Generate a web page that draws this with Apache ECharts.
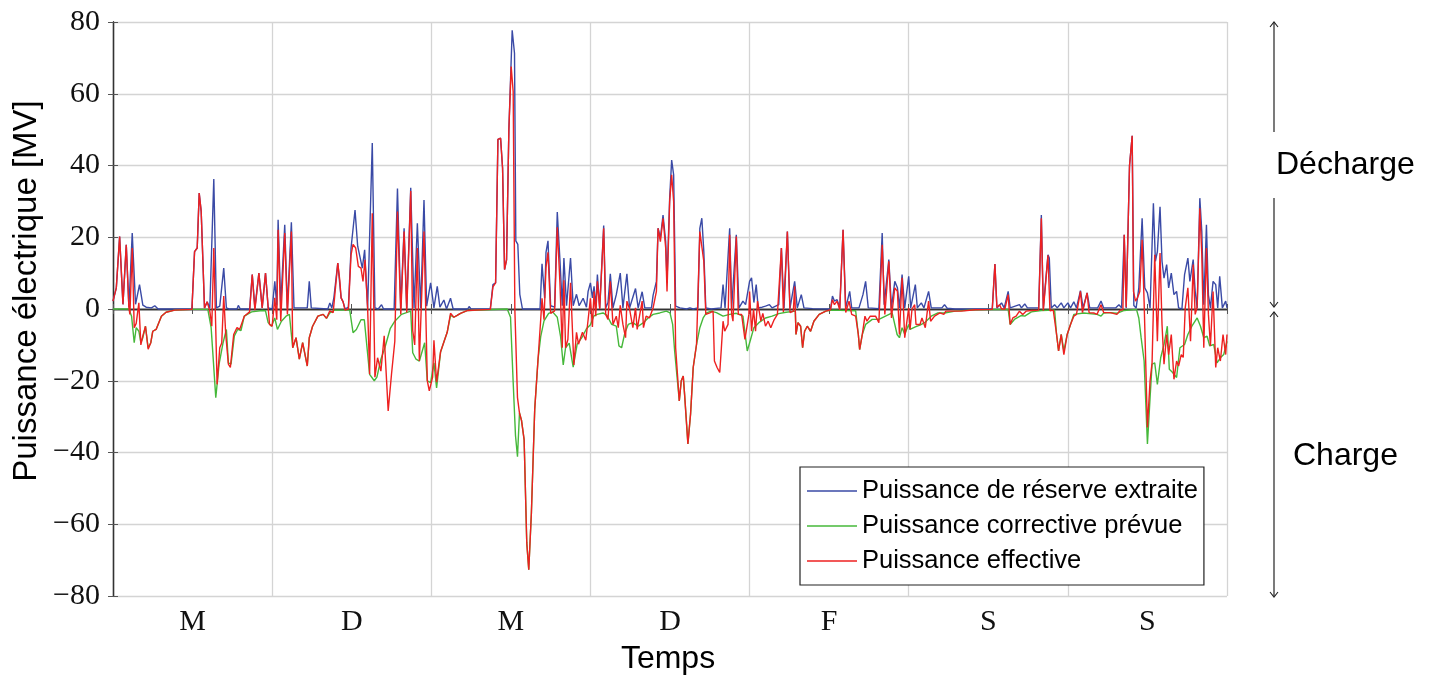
<!DOCTYPE html>
<html>
<head>
<meta charset="utf-8">
<script src="https://cdn.jsdelivr.net/npm/echarts@6/dist/echarts.min.js"></script>
<style>
  html, body { margin: 0; padding: 0; background: #fff; }
  #chart { width: 1435px; height: 680px; }
</style>
</head>
<body>
<div id="chart"></div>
<script>
// jours de la semaine (axe des x, une étiquette par jour)
var dayLabels = ['M', 'D', 'M', 'D', 'F', 'S', 'S'];
var yTicks = [-80, -60, -40, -20, 0, 20, 40, 60, 80];
var seriesNames = ['Puissance de réserve extraite', 'Puissance corrective prévue', 'Puissance effective'];

// [heure, MW]
var reserveExtraite = [[0,2.2],[0.5,5.9],[1,20.2],[1.5,1.3],[2,17.9],[2.4,0.5],[2.9,21.2],[3.4,1.3],[4,6.8],[4.5,1.1],[5,0.5],[5.8,0.3],[6.3,0.9],[6.8,0],[11.4,0],[11.6,0.5],[11.9,0],[12.3,16],[12.7,17],[13,32.3],[13.3,27.2],[13.8,0.3],[14.2,2],[14.6,0.3],[15.2,36.2],[15.6,0.3],[16.1,0.8],[16.7,11.4],[17.1,0.3],[17.5,0],[18.7,0],[18.9,1],[19.2,0],[20.6,0],[21,9.6],[21.4,0.3],[22,10],[22.5,0.3],[23,10],[23.4,0.3],[24,0],
[24.4,7.7],[24.7,1],[24.9,24.9],[25.3,1.2],[25.9,23.5],[26.3,0.3],[26.9,24.2],[27.3,0.3],[29.3,0.3],[29.6,7.7],[29.9,0.3],[32.4,0],[32.7,1.7],[33,0.3],[33.3,3],[33.9,12.8],[34.4,3.1],[34.7,2],[35,0],[35.5,0.5],[35.9,17],[36.5,27.6],[36.9,17.5],[37.2,17],[37.6,11.4],[37.95,16.5],[38.4,0.3],[38.7,0.5],[39.1,46.3],[39.5,0.3],[40,0],[40.5,1.2],[40.8,0],[42.4,0],[42.9,33.6],[43.4,0.3],[43.9,22.5],[44.3,0.3],[44.9,33.8],[45.4,0.3],[45.9,23.9],[46.4,0.3],[46.9,30.4],[47.3,0.8],[47.9,7.3],[48.4,0.3],[48.9,6.3],[49.3,0.5],[49.9,2.5],[50.3,0],[50.9,3],[51.3,0],[53.5,0],[53.7,0.7],[54,0],
[56.9,0],[57.3,6.8],[57.7,7.3],[58.05,47.3],[58.45,47.6],[58.75,39.3],[59.05,11],[59.35,13.7],[59.7,50],[60.2,77.7],[60.55,71.3],[60.75,19],[61.05,18],[61.35,4.1],[61.75,0],[64.4,0],[64.7,12.6],[65.1,3],[65.3,15.8],[65.6,19],[66,0.9],[66.6,0.5],[67,27],[67.4,13.7],[67.75,0.9],[68,14.2],[68.4,0.9],[69,14.2],[69.4,0.9],[69.9,4.1],[70.3,0.9],[70.9,3],[71.4,0.5],[71.65,4.9],[72,7.3],[72.3,3.1],[72.55,6.3],[72.8,0.3],[73.05,9.6],[73.4,0.3],[74,23.3],[74.3,0.3],[74.65,1.8],[75,9.8],[75.4,0.3],[75.9,4],[76.1,4],[76.5,10],[76.9,0.3],[77.5,9.8],[77.9,0.3],[78.8,5.7],[79.2,0.3],[79.8,4.8],[80.2,0.3],[81.2,0.3],[81.45,3.8],[81.95,7.7],[82.2,22.5],[82.55,19.8],[82.95,26.2],[83.35,18.8],[83.55,7.7],[83.95,30.9],[84.25,41.5],[84.55,37.4],[84.85,0.8],[85.5,0.3],[86.5,0],[87,0.3],[87.5,0],[88.2,0.3],[88.5,22.5],[88.8,25.3],[89.1,16],[89.4,0.3],[90.2,0],[91.7,0.3],[92,6.8],[92.3,0.3],[93,22.5],[93.3,0.3],[94,20.7],[94.4,0.3],[95,2.2],[95.4,1.2],
[96,7.7],[96.3,8.7],[96.65,1.8],[97,6.8],[97.3,0.3],[97.9,0.5],[98.4,0.8],[99,1.2],[99.4,0.3],[100.4,1.2],[100.8,17],[101.2,0.3],[101.7,21.6],[102.1,0.3],[102.8,7.7],[103.2,0.3],[103.8,4],[104.2,0.3],[105.5,0.1],[108.2,0],[108.5,3.6],[108.8,2.2],[109.2,2.6],[109.6,0.3],[110.1,22.1],[110.5,0.3],[111.1,4.9],[111.4,0.3],[112.5,0.3],[113.1,4],[113.5,7.7],[113.9,0.3],[115.5,0.1],[116,21.2],[116.3,1.2],[117,13.8],[117.4,0.3],[117.9,7.7],[118.3,5.9],[118.6,0.3],[119,9.6],[119.4,0.3],
[120,9.1],[120.3,0.3],[121,6.8],[121.3,0.3],[121.9,1.7],[122.3,0.3],[123,4.9],[123.4,0.3],[125,0.3],[125.4,1.2],[125.8,0.2],[127,0],[132.6,0],[133,12.5],[133.3,0.3],[134,1.7],[134.4,0.3],[135,4.9],[135.3,0.3],[136.7,1.2],[137,0.3],[137.5,1.4],[137.9,0.3],[139.6,0.3],[140,26.2],[140.3,0.3],[141,15.1],[141.2,14.2],[141.5,0.3],[142,1.2],[142.4,0.3],[143,1.7],[143.4,0.3],
[144,1.7],[144.4,0.3],[144.9,2],[145.3,0.3],[145.9,5.1],[146.3,0.3],[146.9,4.5],[147.3,0.3],[148.5,0.3],[149,2.2],[149.4,0.3],[151.2,0.3],[151.7,1.2],[152.1,0.3],[152.5,20.7],[152.8,0.3],[153.3,40],[153.7,48.3],[153.95,1],[154.3,0.3],[154.7,5.9],[155.2,25.3],[155.6,5.9],[156,4.5],[156.4,0.3],[156.9,29.5],[157.2,13.3],[157.5,16],[157.9,28.5],[158.2,13.3],[158.5,8.6],[158.9,12.4],[159.2,5.9],[159.6,10],[160,4],[160.4,4.9],[160.7,0.3],[161.2,0],[161.6,9.6],[162.1,14.2],[162.4,7.7],[162.9,13.8],[163.2,5],[163.5,0.3],[163.9,30.9],[164.2,21.6],[164.5,1.2],[164.9,23.5],[165.2,3.9],[165.5,0.3],[165.9,7.7],[166.3,6.8],[166.6,0.3],[166.9,9.1],[167.3,0.3],[167.8,2.2],[168,0.3]];

var correctivePrevue = [[0,0],[2.4,0],[2.8,-2],[3.2,-9.4],[3.5,-5.2],[3.9,-6.2],[4.2,-9.4],[4.5,-8],[4.9,-4.8],[5.3,-10.8],[5.7,-9.4],[6,-6.2],[6.5,-5.7],[7.3,-2],[8,-0.9],[9.3,-0.3],[11.8,-0.1],[14.3,-0.1],[14.8,-5.2],[15.5,-24.7],[16,-15.4],[16.6,-9.4],[17.1,-5.7],[17.4,-15],[17.8,-15.4],[18.3,-7.5],[18.8,-5.7],[19.3,-6],[19.8,-2],[20.9,-0.8],[22.5,-0.4],[23,-0.5],[23.4,-3.8],[23.9,-4.8],
[24.4,-2.5],[24.8,-5.7],[25.4,-3.4],[26.1,-2],[26.6,-1.5],[27.1,-10.8],[27.6,-8],[28.1,-14],[28.6,-9.4],[29.3,-15.9],[29.6,-8],[30.1,-4.8],[30.9,-2],[31.7,-1.5],[32.2,-2.6],[32.7,-1.1],[33.4,-0.3],[35.7,-0.3],[36.2,-6.6],[36.7,-5.7],[37.4,-3],[37.9,-3],[38.7,-18.2],[39.4,-20],[39.8,-19],[40.4,-14],[41,-10.8],[41.8,-5.5],[42.5,-3.4],[43.5,-1.5],[44.9,-0.6],[45.2,-12.2],[45.7,-14],[46.2,-14.5],[47,-9.4],[47.4,-20],[47.9,-20.5],
[48.4,-15],[48.8,-22],[49.4,-12],[49.9,-9.2],[50.4,-6.5],[50.9,-1.8],[51.4,-2.3],[51.9,-1.8],[52.4,-1.2],[53.5,-0.4],[59.45,0],[59.95,-2.3],[60.35,-20.4],[60.7,-35.3],[61,-41.2],[61.3,-29],[61.6,-31],[62,-36.4],[62.4,-65.2],[62.7,-72.7],[63.1,-56.7],[63.6,-27.9],[64.1,-14],[64.5,-7.7],[65,-3.3],[65.7,-1.2],[66.3,-0.8],[67,-2.3],[67.5,-7.7],[67.9,-15.6],[68.25,-10.8],[68.8,-9.5],[69.4,-16.2],[70,-9.8],[70.7,-8],[71.4,-5.5],
[72,-4.4],[72.5,-2],[73,-1.5],[73.9,-1.1],[74.5,-1.8],[75.2,-4.3],[75.9,-4.8],[76.3,-10.3],[76.7,-10.8],[77.2,-6.6],[77.7,-4.3],[78.4,-3.8],[79.2,-4.8],[80,-3.8],[80.7,-2.5],[81.45,-1.5],[82.45,-1.1],[83.45,-0.6],[84,-1.1],[84.4,-4.3],[84.7,-11.7],[85.4,-25.6],[85.7,-20],[86,-18.7],[86.2,-23.8],[86.7,-37.6],[87.1,-29.3],[87.5,-16.3],[88,-9.9],[88.5,-5.2],[89,-2.5],[89.5,-1.1],[90.2,-0.6],[91,-1],[92,-2],[93,-1.5],[94,-1.2],[95,-2],[95.65,-11.7],
[96.15,-8.5],[96.65,-5.2],[97.4,-3.8],[98.4,-2.5],[99.4,-2],[100.4,-1.3],[101.5,-0.9],[102.9,-0.6],[103,-7.1],[103.3,-3.8],[103.7,-4.8],[104,-10.8],[104.3,-6.2],[104.7,-4.8],[105.2,-6.2],[105.7,-3.4],[106.5,-1.5],[107.5,-0.6],[108.5,-0.3],[112,-0.5],[112.4,-7.1],[112.6,-11.3],[113,-7.1],[113.5,-4.3],[114.5,-2.9],[115.5,-2.9],[116.5,-2],[117.5,-1.1],[118.25,-7.1],[118.6,-8],[119,-5.2],[119.4,-7],
[120,-4.3],[120.2,-5.7],[121,-5],[121.7,-4.5],[122.4,-3.8],[123.4,-2],[124.4,-1.1],[125.4,-1.1],[127,-0.6],[130,-0.2],[135,-0.1],[135.3,-4.3],[136,-2.8],[137,-1.8],[137.5,-2],[138.5,-0.8],[140,-0.4],[142,-0.3],[142.3,-7.1],[142.6,-11.7],[143,-7.1],[143.4,-11.7],[143.9,-7.1],
[144.4,-4.3],[144.9,-1.5],[146.4,-1.1],[148.4,-1.5],[149,-2],[149.4,-1.1],[150.4,-1],[151.4,-1.2],[152.5,-0.4],[154.35,-0.1],[154.7,-2.5],[155.05,-8],[155.5,-14.5],[156,-37.6],[156.4,-24.7],[156.7,-15.4],[157.1,-15],[157.5,-21],[158,-13.6],[158.5,-9.9],[159,-4.8],[159.3,-16.8],[159.8,-17.7],[160.4,-19.1],[160.9,-10.8],[161.6,-9.9],[162.1,-7.1],[162.7,-4.8],[163.5,-2.5],[164,-4.8],[164.5,-8],[165,-7.6],[165.4,-10.3],[166,-9.9],[166.5,-15],[167,-13.6],[167.5,-12.7],[168,-9]];

var effective = [[0,2.2],[0.5,5.9],[1,20.2],[1.5,1.3],[2,17.9],[2.4,0.3],[2.55,-1.5],[2.9,17],[3.2,-5.2],[3.5,-4],[3.9,1.7],[4.2,-10],[4.5,-7.5],[4.9,-4.8],[5.3,-11.2],[5.7,-9.4],[6,-6.2],[6.5,-5.7],[7.3,-2],[8,-0.9],[9.3,-0.3],[11.9,-0.1],[12.3,16],[12.7,17],[13,32.3],[13.3,27.2],[13.8,0.3],[14.2,2],[14.6,-0.6],[14.9,-4.8],[15.2,17],[15.7,-21],[16.1,-10.8],[16.4,-9.5],[16.7,3.6],[17,-7],[17.4,-15.4],[17.7,-16.3],[18.2,-7.1],[18.7,-5.2],[19.1,-5.7],[19.8,-2],[20.6,-0.8],[21,9.6],[21.4,-0.3],[22,10],[22.5,0.3],[23,10],[23.6,-4.3],[24,-4.8],
[24.4,3.1],[24.7,-3],[24.9,22.1],[25.3,-3.4],[25.9,21.2],[26.3,-1.5],[26.6,-1.5],[26.9,21.6],[27.1,-10.8],[27.6,-8],[28.1,-14],[28.6,-9.4],[29.3,-15.9],[29.6,-8],[30.1,-4.8],[30.9,-2],[31.7,-1.5],[32.2,-2.6],[32.7,-0.5],[33.2,-1],[33.9,12.8],[34.2,8],[34.4,3.1],[34.7,2],[35,-0.3],[35.5,0],[35.9,15.1],[36.2,18],[36.6,17],[37,11.9],[37.4,11.4],[37.7,7.7],[38,13.7],[38.4,0.3],[38.7,-18.2],[39.1,26.7],[39.5,-19],[39.9,-13.6],[40.4,-17.3],[40.9,-7.5],[41.5,-28.4],[42,-18.2],[42.5,-9],[42.9,27.2],[43.4,-1.5],[43.9,21.6],[44.3,-1],[44.9,32.9],[45.2,-6],[45.5,-10],[45.9,17],[46.2,-14.5],[46.9,21.6],[47.4,-20],[47.7,-22.8],
[48.2,-19],[48.4,-8.7],[48.8,-20.4],[49.4,-11.9],[49.9,-9.2],[50.4,-6.5],[50.9,-1.2],[51.4,-2.3],[51.9,-1.8],[52.4,-1.2],[53.5,-0.4],[56.9,-0.1],[57.3,6.2],[57.7,7.3],[58.05,47.3],[58.45,47.6],[58.75,39.3],[59.05,11],[59.35,13.7],[59.7,50],[60.05,67.6],[60.35,60.6],[60.6,0],[61,-24.7],[61.3,-29],[61.6,-31],[62,-36.4],[62.4,-65.2],[62.7,-72.7],[63.1,-56.7],[63.6,-27.9],[64.1,-14],[64.5,-3],[64.7,3],[65,-3],[65.3,11.6],[65.6,15.8],[66,-1.2],[66.6,-0.5],[67,22.8],[67.4,7.3],[67.75,-10.8],[68,8],[68.25,-10.8],[68.6,-8.5],[69,7.3],[69.5,-15.6],[69.9,-6.5],[70.2,-9.8],[70.8,-6.5],[71.3,-8.7],[71.65,-3],
[72,3],[72.3,-5],[72.55,4.9],[72.8,-2],[73.05,7.7],[73.4,0],[74,22.5],[74.3,-1.5],[74.65,-2.9],[75,7.7],[75.4,-4.3],[75.9,-2],[76.2,-5.2],[76.5,1],[76.9,-4.3],[77.3,-8],[77.5,2.2],[77.9,0],[78.4,-5.2],[78.8,0.3],[79.05,-5.7],[79.4,-2],[79.8,2.2],[80,-5.2],[80.4,-2],[80.9,-2.5],[81.45,0.3],[81.95,4.9],[82.2,22.5],[82.55,18.8],[82.95,25.3],[83.35,17],[83.55,4.9],[83.95,30],[84.25,37.4],[84.55,30],[84.85,-10.8],[85.4,-25.6],[85.7,-20],[86,-18.7],[86.2,-23.8],[86.7,-37.6],[87.1,-29.3],[87.5,-16.3],[88,-9.9],[88.5,21.6],[88.8,21.6],[89.1,13.3],[89.4,-1.5],[90,-1.1],[90.5,-0.6],[90.7,-14.5],[91.1,-16.3],[91.5,-17.7],[91.75,-10.8],[92,-3.4],[92.25,-6.2],[92.75,-4.3],[93,20.7],[93.3,-1.5],[93.5,-3.4],[94,20.2],[94.3,-1.5],[94.8,-1.5],[95.3,-8.5],[95.6,-8.9],[95.9,-1.5],
[96,4.9],[96.3,-6.2],[96.6,0],[96.9,-6.2],[97.2,2.2],[97.7,-3.4],[98,-1.2],[98.4,-4.8],[98.8,-3.4],[99.2,-5.2],[99.7,-3],[100.2,-1.5],[100.8,17],[101.1,-0.8],[101.7,21.6],[102.1,-1],[102.6,-0.6],[102.8,6.3],[103,-7.1],[103.3,-3.8],[103.7,-4.8],[104,-10.8],[104.3,-6.2],[104.7,-4.8],[105.2,-6.2],[105.7,-3.4],[106.5,-1.5],[107.5,-0.6],[108.2,-0.2],[108.5,2.6],[108.8,1.2],[109.2,2.2],[109.6,-0.2],[110.1,22.1],[110.5,-1],[111,2.2],[111.4,-1.5],[112,-2],[112.4,-7.1],[112.6,-11.3],[113,-7.1],[113.4,-2],[113.7,-3.4],[114.2,-2],[115,-2],[115.5,-3.8],[116,17.9],[116.4,-1.5],[117,13.3],[117.4,-2.5],[117.9,5.9],[118.3,4.9],[118.6,-7.1],[119,8.7],[119.4,-8],
[120,0.3],[120.2,-5.7],[120.5,0],[120.9,1.2],[121.1,-4.3],[121.7,-4.3],[122,-2.5],[122.5,-5.2],[123,2.2],[123.3,-3.4],[123.9,-2],[124.7,-1.1],[125.3,-1.5],[125.6,-0.6],[127.9,-0.6],[130,-0.2],[132.6,-0.1],[133,12.5],[133.3,0.5],[133.7,1.2],[134,0],[134.5,0],[135,4],[135.3,-4.3],[135.7,-2.5],[136.2,-2],[136.7,-0.6],[137.2,-1.5],[137.7,-0.6],[138.5,-0.4],[139.6,-0.3],[140,25.3],[140.3,-0.5],[140.6,-0.3],[141,15],[141.3,-0.5],[141.8,-0.3],[142.3,-7.1],[142.6,-11.7],[143,-7.1],[143.4,-12.7],[143.9,-7.1],
[144.4,-4.3],[144.9,-2],[145.3,-1.5],[145.9,4.9],[146.2,-1],[146.5,-1.3],[146.9,4.5],[147.2,-1],[147.9,-1.1],[148.4,-1.5],[149,1.2],[149.4,-1],[150.4,-1],[151.4,-1.5],[151.9,-0.3],[152.3,-0.2],[152.5,20.7],[152.8,0.5],[153.3,40],[153.7,48.3],[153.9,4.9],[154.2,2.2],[154.5,3.1],[154.85,4.9],[155.2,19.3],[155.5,2],[156,-33],[156.4,-20],[156.7,-15],[157.1,15.1],[157.5,-9],[157.9,15.6],[158.2,-4.3],[158.5,-15.4],[158.9,-7.1],[159.2,-12.7],[159.6,-7.1],[160,-19.6],[160.4,-14.5],[160.7,-15.9],[161.1,-12.7],[161.4,-13.5],[161.7,0.3],[162.1,5.9],[162.5,-9],[162.9,12.4],[163.2,-1.5],[163.5,0.5],[163.9,28.1],[164.2,15.1],[164.5,-10.8],[164.9,17],[165.2,-1.5],[165.5,-10.3],[165.9,4.9],[166.3,-16.3],[166.6,-10.8],[167,-14.5],[167.4,-7.1],[167.8,-12.7],[168,-7.1]];

var colors = ['#3a4aa6', '#46b83a', '#ee2020'];
var serif = '"Liberation Serif", "DejaVu Serif", serif';
var sans = '"Liberation Sans", Arial, sans-serif';
var frame = { show: true, lineStyle: { color: '#333', width: 1.3 } };
var ticksIn = { show: true, inside: true, length: 5, lineStyle: { color: '#555', width: 1 } };

function makeSerie(name, data, color) {
	return {
		name: name,
		type: 'line',
		data: data,
		symbol: 'none',
		showSymbol: false,
		xAxisIndex: 0,
		yAxisIndex: 0,
		lineStyle: { color: color, width: 1.4 },
		itemStyle: { color: color },
		animation: false
	};
}

var chart = echarts.init(document.getElementById('chart'));
var option = {
	backgroundColor: '#fff',
	animation: false,
	grid: { left: 113, top: 22, width: 1114, height: 574 },
	legend: {
		orient: 'vertical',
		left: 800,
		top: 467,
		icon: 'rect',
		itemWidth: 50,
		itemHeight: 1.6,
		itemGap: 9,
		padding: [11, 6, 11, 7],
		backgroundColor: '#fff',
		borderColor: '#222',
		borderWidth: 1.2,
		textStyle: { fontFamily: sans, fontSize: 25.5, color: '#000' },
		data: seriesNames
	},
	xAxis: [
		{
			type: 'value', min: 0, max: 168, interval: 12, position: 'bottom',
			axisLine: frame, axisTick: ticksIn, splitLine: { show: false },
			axisLabel: {
				margin: 11, fontFamily: serif, fontSize: 30, color: '#111',
				formatter: function (v) { return v % 24 === 12 ? dayLabels[(v - 12) / 24] : ''; }
			}
		},
		{
			type: 'value', min: 0, max: 168, interval: 12, position: 'top',
			axisLine: frame, axisTick: ticksIn, axisLabel: { show: false }, splitLine: { show: false }
		},
		{
			type: 'value', min: 0, max: 168, interval: 24, position: 'bottom',
			axisLine: { show: false }, axisTick: { show: false }, axisLabel: { show: false },
			splitLine: { show: true, lineStyle: { color: '#d4d4d4', width: 1.3 } }
		}
	],
	yAxis: [
		{
			type: 'value', min: yTicks[0], max: yTicks[yTicks.length - 1], interval: 20, position: 'left',
			axisLine: frame, axisTick: ticksIn,
			splitLine: { show: true, lineStyle: { color: '#d4d4d4', width: 1.3 } },
			axisLabel: {
				margin: 13, fontFamily: serif, fontSize: 30, color: '#111',
				formatter: function (v) { return v < 0 ? '\u2212' + Math.abs(v) : String(v); }
			}
		},
		{
			type: 'value', min: yTicks[0], max: yTicks[yTicks.length - 1], interval: 20, position: 'right',
			axisLine: frame, axisTick: ticksIn, axisLabel: { show: false }, splitLine: { show: false }
		}
	],
	series: [
		makeSerie(seriesNames[0], reserveExtraite, colors[0]),
		makeSerie(seriesNames[1], correctivePrevue, colors[1]),
		makeSerie(seriesNames[2], effective, colors[2])
	],
	graphic: [
		{ type: 'text', x: 27, y: 291, rotation: Math.PI / 2, z: 10,
		  style: { text: 'Puissance électrique [MV]', font: '33px ' + sans, fill: '#000', align: 'center', verticalAlign: 'middle' } },
		{ type: 'text', x: 668, y: 659, z: 10,
		  style: { text: 'Temps', font: '32px ' + sans, fill: '#000', align: 'center', verticalAlign: 'middle' } },
		// flèches décharge / charge
		{ type: 'line', z: 5, shape: { x1: 1274, y1: 23, x2: 1274, y2: 307 }, style: { stroke: '#222', lineWidth: 1.2 } },
		{ type: 'line', z: 5, shape: { x1: 1274, y1: 312, x2: 1274, y2: 596 }, style: { stroke: '#222', lineWidth: 1.2 } },
		{ type: 'polyline', z: 5, shape: { points: [[1270, 27], [1274, 22], [1278, 27]] }, style: { stroke: '#222', lineWidth: 1.1, fill: null } },
		{ type: 'polyline', z: 5, shape: { points: [[1270, 302], [1274, 307], [1278, 302]] }, style: { stroke: '#222', lineWidth: 1.1, fill: null } },
		{ type: 'polyline', z: 5, shape: { points: [[1270, 317], [1274, 312], [1278, 317]] }, style: { stroke: '#222', lineWidth: 1.1, fill: null } },
		{ type: 'polyline', z: 5, shape: { points: [[1270, 592], [1274, 597], [1278, 592]] }, style: { stroke: '#222', lineWidth: 1.1, fill: null } },
		{ type: 'text', x: 1273, y: 165, z: 10,
		  style: { text: 'Décharge', font: '32px ' + sans, fill: '#000', align: 'left', verticalAlign: 'middle',
		           backgroundColor: '#fff', padding: [17, 2, 17, 3] } },
		{ type: 'text', x: 1293, y: 456, z: 10,
		  style: { text: 'Charge', font: '32px ' + sans, fill: '#000', align: 'left', verticalAlign: 'middle' } }
	]
};
chart.setOption(option);
</script>
</body>
</html>
